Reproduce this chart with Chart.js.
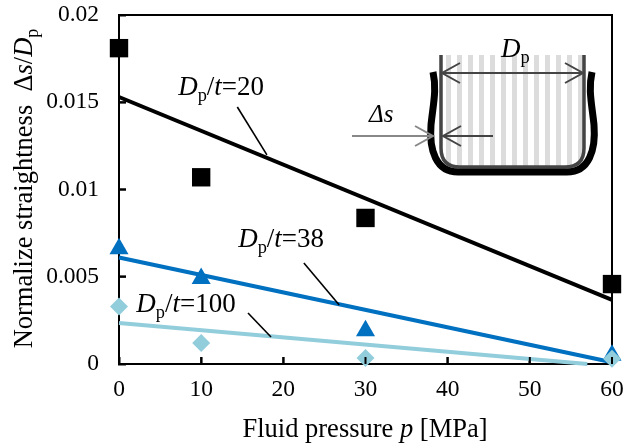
<!DOCTYPE html>
<html>
<head>
<meta charset="utf-8">
<script src="https://cdn.jsdelivr.net/npm/chart.js@4"></script>
<style>
    html, body { margin: 0; padding: 0; background: #fff; }
    canvas { display: block; }
</style>
</head>
<body>
<canvas id="chartCanvas" width="624" height="447"></canvas>
<script>
const pressures = [0, 10, 30, 60];
const ratio20 = [0.0181, 0.0107, 0.00837, 0.00458];
const ratio38 = [0.0066, 0.0049, 0.0019, 0.0005];
const ratio100 = [0.0033, 0.0012, 0.00035, 0.0003];

const trendX20 = [0, 60];
const trendY20 = [0.0153, 0.00367];
const trendX38 = [0, 60];
const trendY38 = [0.0061, 0.0001];
const trendX100 = [0, 57];
const trendY100 = [0.00235, 0];

const xTicks = [0, 10, 20, 30, 40, 50, 60];
const yTicks = [0, 0.005, 0.01, 0.015, 0.02];
const yTickLabels = ['0', '0.005', '0.01', '0.015', '0.02'];

// top and right edge of the plot frame
const frameX = [0, 60, 60];
const frameY = [0.02, 0.02, 0];

const BLACK = '#000000';
const BLUE = '#0070c0';
const LIGHT = '#92cddc';
const SERIF = '"Liberation Serif", "Times New Roman", serif';

function toPoints(xs, ys) {
    return xs.map((x, i) => ({ x: x, y: ys[i] }));
}

// text with mixed italic / subscript runs, drawn from x,y baseline
function richText(ctx, runs, x, y, size) {
    runs.forEach(run => {
        const style = run[1];
        const s = style === 'sub' ? size * 0.68 : size;
        ctx.font = (style === 'i' ? 'italic ' : '') + s + 'px ' + SERIF;
        ctx.fillText(run[0], x, style === 'sub' ? y + size * 0.22 : y);
        x += ctx.measureText(run[0]).width;
    });
}

function richWidth(ctx, runs, size) {
    let w = 0;
    runs.forEach(run => {
        const s = run[1] === 'sub' ? size * 0.68 : size;
        ctx.font = (run[1] === 'i' ? 'italic ' : '') + s + 'px ' + SERIF;
        w += ctx.measureText(run[0]).width;
    });
    return w;
}

function ratioRuns(value) {
    return [['D', 'i'], ['p', 'sub'], ['/', 'r'], ['t', 'i'], ['=' + value, 'r']];
}

function arrowHead(ctx, x, y, dir) {
    ctx.beginPath();
    ctx.moveTo(x + dir * 18, y - 10);
    ctx.lineTo(x, y);
    ctx.lineTo(x + dir * 18, y + 10);
    ctx.stroke();
}

function drawInset(ctx) {
    // stripes
    ctx.fillStyle = '#dcdcdc';
    for (let x = 446; x < 582; x += 11) {
        ctx.fillRect(x, 55, 5, 112);
    }
    // inner wall
    ctx.strokeStyle = '#444444';
    ctx.lineWidth = 3.5;
    ctx.beginPath();
    ctx.moveTo(441, 55);
    ctx.lineTo(441, 148);
    ctx.quadraticCurveTo(441, 167, 460, 167);
    ctx.lineTo(565, 167);
    ctx.quadraticCurveTo(584, 167, 584, 148);
    ctx.lineTo(584, 55);
    ctx.stroke();
    // outer deformed wall
    ctx.strokeStyle = BLACK;
    ctx.lineWidth = 7;
    ctx.beginPath();
    ctx.moveTo(433, 72);
    ctx.bezierCurveTo(437, 90, 433, 105, 431, 125);
    ctx.bezierCurveTo(429, 150, 436, 172, 458, 172);
    ctx.lineTo(567, 172);
    ctx.bezierCurveTo(589, 172, 596, 150, 594, 125);
    ctx.bezierCurveTo(592, 105, 588, 90, 592, 72);
    ctx.stroke();
    // D_p arrow
    ctx.strokeStyle = '#444444';
    ctx.lineWidth = 2;
    ctx.beginPath();
    ctx.moveTo(442, 73);
    ctx.lineTo(583, 73);
    ctx.stroke();
    arrowHead(ctx, 442, 73, 1);
    arrowHead(ctx, 583, 73, -1);
    // delta s arrows
    ctx.beginPath();
    ctx.moveTo(443, 136);
    ctx.lineTo(493, 136);
    ctx.stroke();
    arrowHead(ctx, 443, 136, 1);
    ctx.strokeStyle = '#888888';
    ctx.beginPath();
    ctx.moveTo(352, 136);
    ctx.lineTo(433, 136);
    ctx.stroke();
    arrowHead(ctx, 433, 136, -1);
    // labels
    ctx.fillStyle = BLACK;
    richText(ctx, [['D', 'i'], ['p', 'sub']], 501, 57, 27);
    richText(ctx, [['Δs', 'i']], 369, 122, 25);
}

const annotationPlugin = {
    id: 'annotations',
    afterDraw(chart) {
        const ctx = chart.ctx;
        const area = chart.chartArea;
        const x = chart.scales.x;
        const y = chart.scales.y;
        ctx.save();
        ctx.textBaseline = 'alphabetic';
        ctx.textAlign = 'left';

        // inward tick marks
        ctx.strokeStyle = BLACK;
        ctx.lineWidth = 2;
        ctx.beginPath();
        xTicks.forEach(v => {
            const px = x.getPixelForValue(v);
            ctx.moveTo(px, area.bottom);
            ctx.lineTo(px, area.bottom - 7);
        });
        yTicks.forEach(v => {
            const py = y.getPixelForValue(v);
            ctx.moveTo(area.left, py);
            ctx.lineTo(area.left + 7, py);
        });
        ctx.stroke();

        // leader lines and ratio labels
        ctx.lineWidth = 1.6;
        [[14.4, 0.01473, 18.0, 0.01198], [22.5, 0.00579, 26.8, 0.00338], [15.7, 0.00292, 18.5, 0.00155]].forEach(l => {
            ctx.beginPath();
            ctx.moveTo(x.getPixelForValue(l[0]), y.getPixelForValue(l[1]));
            ctx.lineTo(x.getPixelForValue(l[2]), y.getPixelForValue(l[3]));
            ctx.stroke();
        });
        ctx.fillStyle = BLACK;
        richText(ctx, ratioRuns('20'), x.getPixelForValue(7.2), y.getPixelForValue(0.0154), 27);
        richText(ctx, ratioRuns('38'), x.getPixelForValue(14.5), y.getPixelForValue(0.0067), 27);
        richText(ctx, ratioRuns('100'), x.getPixelForValue(2.1), y.getPixelForValue(0.00298), 27);

        drawInset(ctx);

        // axis titles
        ctx.fillStyle = BLACK;
        const titleSize = 26.5;
        const xRuns = [['Fluid pressure ', 'r'], ['p', 'i'], [' [MPa]', 'r']];
        richText(ctx, xRuns, (area.left + area.right) / 2 - 0.5 * richWidth(ctx, xRuns, titleSize) - 0.5, 437, titleSize);
        const yRuns = [['Normalize straightness  Δ', 'r'], ['s', 'i'], ['/', 'r'], ['D', 'i'], ['p', 'sub']];
        ctx.save();
        ctx.translate(32, (area.top + area.bottom) / 2 - 1);
        ctx.rotate(-Math.PI / 2);
        richText(ctx, yRuns, -0.5 * richWidth(ctx, yRuns, titleSize), 0, titleSize);
        ctx.restore();
        ctx.restore();
    }
};

function trendSet(xs, ys, color, width, order) {
    return {
        type: 'line',
        data: toPoints(xs, ys),
        borderColor: color,
        borderWidth: width,
        pointRadius: 0,
        tension: 0,
        clip: false,
        order: order
    };
}

function markerSet(values, color, style, radius, order) {
    return {
        type: 'scatter',
        data: toPoints(pressures, values),
        backgroundColor: color,
        borderWidth: 0,
        pointStyle: style,
        pointRadius: radius,
        clip: false,
        order: order
    };
}

// tick padding would otherwise be added to the space around the plot
function clearAxisPadding(axis) {
    axis.paddingTop = 0;
    axis.paddingBottom = 0;
    axis.paddingLeft = 0;
    axis.paddingRight = 0;
}

const innerTicks = {
    display: true,
    drawOnChartArea: false,
    drawTicks: true,
    tickLength: -7,
    tickColor: BLACK,
    tickWidth: 2,
    z: 0
};

const chart = new Chart(document.getElementById('chartCanvas').getContext('2d'), {
    data: {
        datasets: [
            markerSet(ratio100, LIGHT, 'rectRot', 9, 1),
            markerSet(ratio38, BLUE, 'triangle', 11, 2),
            markerSet(ratio20, BLACK, 'rect', 13, 3),
            trendSet(trendX100, trendY100, LIGHT, 4, 6),
            trendSet(trendX38, trendY38, BLUE, 4, 5),
            trendSet(trendX20, trendY20, BLACK, 4, 4),
            trendSet(frameX, frameY, BLACK, 2, 7)
        ]
    },
    options: {
        responsive: false,
        animation: false,
        layout: { autoPadding: false, padding: { top: 15, right: 12, bottom: 0, left: 0 } },
        plugins: {
            legend: { display: false },
            tooltip: { enabled: false }
        },
        scales: {
            x: {
                type: 'linear',
                min: 0,
                max: 60,
                afterBuildTicks: axis => { axis.ticks = xTicks.map(v => ({ value: v })); },
                afterFit: axis => {
                    axis.height = 83;
                    clearAxisPadding(axis);
                },
                grid: innerTicks,
                border: { display: true, color: BLACK, width: 2 },
                ticks: {
                    color: BLACK,
                    font: { family: SERIF, size: 23.5 },
                    padding: 19,
                    maxRotation: 0
                }
            },
            y: {
                type: 'linear',
                min: 0,
                max: 0.02,
                afterBuildTicks: axis => { axis.ticks = yTicks.map(v => ({ value: v })); },
                afterFit: axis => {
                    axis.width = 119;
                    clearAxisPadding(axis);
                },
                grid: innerTicks,
                border: { display: true, color: BLACK, width: 2 },
                ticks: {
                    color: BLACK,
                    font: { family: SERIF, size: 23.5 },
                    padding: 27,
                    callback: value => yTickLabels[yTicks.indexOf(value)]
                }
            }
        }
    },
    plugins: [annotationPlugin]
});
</script>
</body>
</html>
